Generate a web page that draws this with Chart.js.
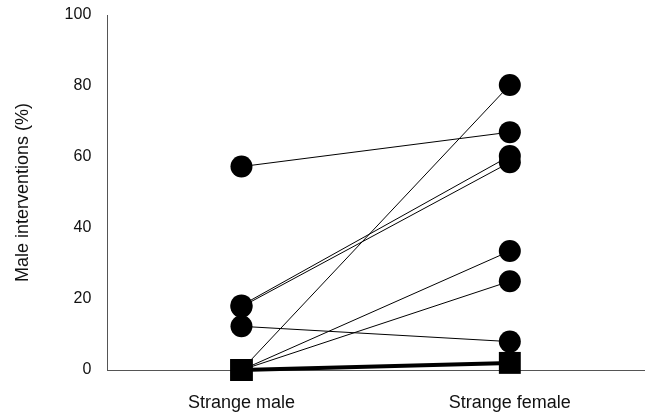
<!DOCTYPE html>
<html>
<head>
<meta charset="utf-8">
<script src="https://cdn.jsdelivr.net/npm/chart.js@4/dist/chart.umd.min.js"></script>
<style>
  html, body { margin: 0; padding: 0; background: #fff; }
  #wrap { width: 645px; height: 413px; }
</style>
</head>
<body>
<div id="wrap"><canvas id="chart"></canvas></div>
<script>
// -------- Datos --------
const categories = ["Strange male", "Strange female"];
const yTicks = [0, 20, 40, 60, 80, 100];

// one entry per animal: % at strange male, % at strange female
const maleValues   = [57.3, 18.2, 17.8, 12.3, 0, 0, 0, 0];
const femaleValues = [67.0, 60.3, 58.5, 8.0, 80.3, 33.5, 25.0, 2.0];
// marker shape at each end
const maleShapes   = ["circle", "circle", "circle", "circle", "rect", "rect", "rect", "rect"];
const femaleShapes = ["circle", "circle", "circle", "circle", "circle", "circle", "circle", "rect"];
const lineWidths   = [1, 1, 1, 1, 1, 1, 1, 4];

const FONT = "'Liberation Sans', Arial, sans-serif";

const datasets = maleValues.map((v, i) => {
  const shapes = [maleShapes[i], femaleShapes[i]];
  return {
    data: [{ x: 1, y: v }, { x: 2, y: femaleValues[i] }],
    borderColor: "#000",
    backgroundColor: "#000",
    borderWidth: lineWidths[i],
    pointStyle: shapes,
    pointRadius: shapes.map(s => s === "rect" ? 15.5 : 11),
    pointBorderWidth: 0,
    showLine: true,
    clip: false
  };
});

new Chart(document.getElementById("chart"), {
  type: "scatter",
  data: { datasets },
  options: {
    responsive: true,
    maintainAspectRatio: false,
    animation: false,
    layout: { autoPadding: false, padding: { top: 15, right: 1, left: 12, bottom: 0 } },
    plugins: { legend: { display: false }, tooltip: { enabled: false } },
    scales: {
      x: {
        type: "linear",
        min: 0.5,
        max: 2.5,
        afterBuildTicks: axis => { axis.ticks = categories.map((_, i) => ({ value: i + 1 })); },
        // chart.js counts the tick padding twice, fix the band height by hand
        afterFit: axis => { axis.height = 43; },
        grid: { display: false, drawTicks: false },
        border: { display: true, color: "#555", width: 1 },
        ticks: {
          padding: 22,
          color: "#111",
          font: { family: FONT, size: 18 },
          callback: v => categories[v - 1]
        }
      },
      y: {
        min: 0,
        max: 100,
        afterBuildTicks: axis => { axis.ticks = yTicks.map(v => ({ value: v })); },
        // tick padding would otherwise push the plot area down from the top
        afterFit: axis => { axis.paddingTop = 0; axis.paddingBottom = 0; },
        grid: { display: false, drawTicks: false },
        border: { display: true, color: "#555", width: 1 },
        ticks: { padding: 16, color: "#111", font: { family: FONT, size: 16 } },
        title: {
          display: true,
          text: "Male interventions (%)",
          color: "#111",
          font: { family: FONT, size: 18 },
          padding: { top: 0, bottom: 15 }
        }
      }
    }
  }
});
</script>
</body>
</html>
